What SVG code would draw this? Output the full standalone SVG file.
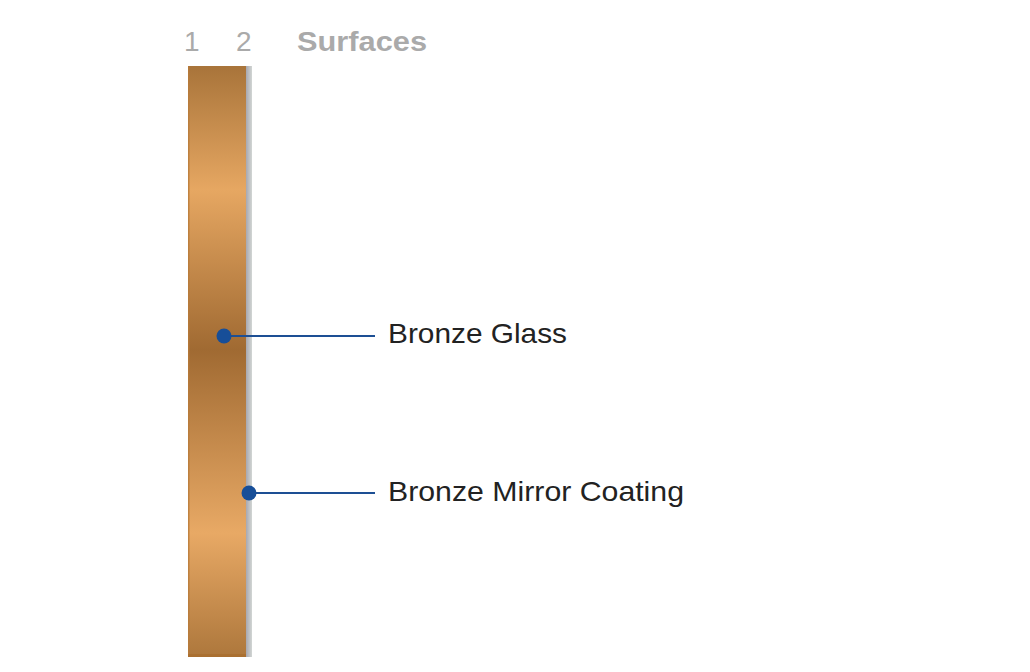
<svg xmlns="http://www.w3.org/2000/svg" width="1030" height="672" viewBox="0 0 1030 672">
<style>
.hdr{font-family:"Liberation Sans",Arial,sans-serif;fill:#aaaaaa;font-size:28px}
.lbl{font-family:"Liberation Sans",Arial,sans-serif;fill:#222222;font-size:28.5px}
.lead{stroke:#1d4f94;stroke-width:2;fill:none}
.dot{fill:#174e98}
</style>
<defs>
<linearGradient id="bronze" x1="0" y1="66" x2="0" y2="657" gradientUnits="userSpaceOnUse">
<stop offset="0" stop-color="#a8743a"/>
<stop offset="0.21" stop-color="#e6a762"/>
<stop offset="0.48" stop-color="#a06a32"/>
<stop offset="0.79" stop-color="#e8a965"/>
<stop offset="1" stop-color="#ad773c"/>
</linearGradient>
<linearGradient id="coat" x1="0" y1="0" x2="1" y2="0">
<stop offset="0" stop-color="#a8a8b0"/>
<stop offset="1" stop-color="#d2d6d4"/>
</linearGradient>
</defs>
<rect width="1030" height="672" fill="#ffffff"/>
<g id="header">
<text class="hdr" x="184" y="51" style="font-weight:300">1</text>
<text class="hdr" x="236" y="51">2</text>
<text class="hdr" x="297" y="51" font-weight="bold" textLength="130" lengthAdjust="spacingAndGlyphs">Surfaces</text>
</g>
<g id="glass">
<rect x="188" y="66" width="58" height="591" fill="url(#bronze)"/>
<rect x="188" y="66" width="1.5" height="591" fill="#b87a3a" opacity="0.8"/>
<rect x="188" y="654" width="58" height="3" fill="#a86c2c" opacity="0.7"/>
</g>
<g id="coating">
<rect x="246" y="66" width="6" height="591" fill="url(#coat)"/>
</g>
<g id="connectors">
<line class="lead" x1="224" y1="336" x2="375" y2="336"/>
<line class="lead" x1="249" y1="493" x2="375" y2="493"/>
<circle class="dot" cx="224" cy="336" r="7.5"/>
<circle class="dot" cx="249" cy="493" r="7.5"/>
</g>
<g id="label-glass">
<text class="lbl" x="388" y="343" textLength="179" lengthAdjust="spacingAndGlyphs">Bronze Glass</text>
</g>
<g id="label-coating">
<text class="lbl" x="388" y="501" textLength="296" lengthAdjust="spacingAndGlyphs">Bronze Mirror Coating</text>
</g>
</svg>
